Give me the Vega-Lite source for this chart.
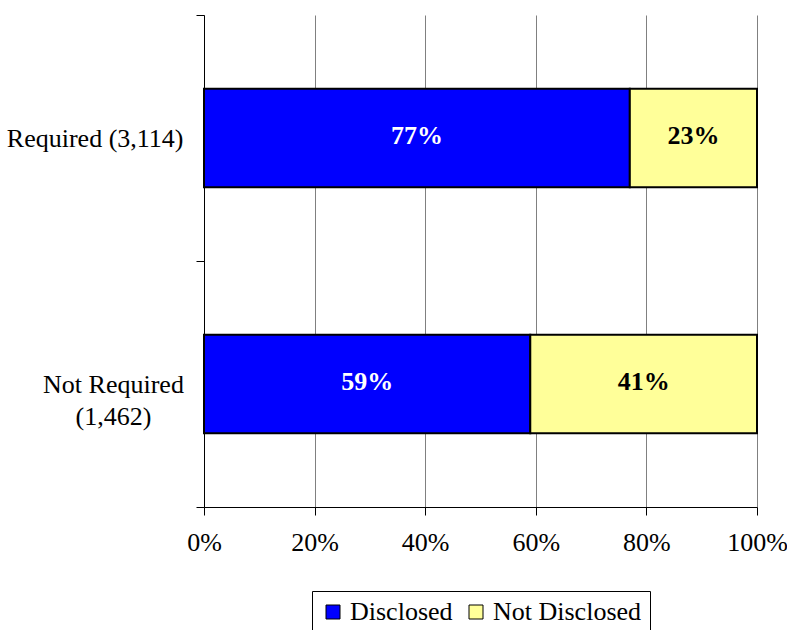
{
  "$schema": "https://vega.github.io/schema/vega-lite/v6.json",
  "autosize": "none",
  "width": 553,
  "height": 492,
  "padding": {"left": 204, "top": 15, "right": 30, "bottom": 123},
  "background": "white",
  "config": {
    "view": {"stroke": null},
    "font": "Liberation Serif",
    "axis": {"labelFont": "Liberation Serif", "labelColor": "black", "domainColor": "black", "tickColor": "black", "domainWidth": 1, "tickWidth": 1},
    "legend": {"labelFont": "Liberation Serif"}
  },
  "data": {
    "values": [
      {"group": "Required (3,114)", "status": "Disclosed", "rank": 1, "pct": 0.77},
      {"group": "Required (3,114)", "status": "Not Disclosed", "rank": 2, "pct": 0.23},
      {"group": "Not Required (1,462)", "status": "Disclosed", "rank": 1, "pct": 0.59},
      {"group": "Not Required (1,462)", "status": "Not Disclosed", "rank": 2, "pct": 0.41}
    ]
  },
  "transform": [
    {"stack": "pct", "groupby": ["group"], "sort": [{"field": "rank"}], "as": ["x0", "x1"]},
    {"calculate": "(datum.x0 + datum.x1) / 2", "as": "mid"}
  ],
  "encoding": {
    "y": {
      "field": "group",
      "type": "nominal",
      "sort": ["Required (3,114)", "Not Required (1,462)"],
      "scale": {"paddingInner": 0, "paddingOuter": 0},
      "title": null,
      "axis": {
        "tickBand": "extent",
        "tickSize": 8,
        "labelFontSize": 26,
        "labelLineHeight": 32,
        "labelLimit": 300,
        "labelAlign": {"condition": {"test": "datum.value == 'Not Required (1,462)'", "value": "center"}, "value": "right"},
        "labelPadding": {"condition": {"test": "datum.value == 'Not Required (1,462)'", "value": 83}, "value": 13},
        "labelExpr": "datum.value == 'Not Required (1,462)' ? ['Not Required', '(1,462)'] : datum.label"
      }
    }
  },
  "layer": [
    {
      "mark": {"type": "bar", "height": {"band": 0.4}, "stroke": "black", "strokeWidth": 2},
      "encoding": {
        "x": {
          "field": "x0",
          "type": "quantitative",
          "scale": {"domain": [0, 1], "nice": false},
          "title": null,
          "axis": {
            "values": [0, 0.2, 0.4, 0.6, 0.8, 1],
            "format": ".0%",
            "grid": true,
            "gridColor": "#808080",
            "gridWidth": 1,
            "tickSize": 8,
            "labelFontSize": 26,
            "labelPadding": 14,
            "labelFlush": false
          }
        },
        "x2": {"field": "x1"},
        "color": {
          "field": "status",
          "type": "nominal",
          "scale": {"domain": ["Disclosed", "Not Disclosed"], "range": ["#0000FF", "#FFFF99"]},
          "legend": {
            "title": null,
            "orient": "none",
            "direction": "horizontal",
            "legendX": 108,
            "legendY": 576,
            "strokeColor": "black",
            "fillColor": "white",
            "padding": 8,
            "symbolType": "square",
            "symbolSize": 196,
            "symbolStrokeColor": "black",
            "symbolStrokeWidth": 1,
            "symbolOpacity": 1,
            "labelFontSize": 26,
            "labelOffset": 4,
            "columnPadding": 10
          }
        }
      }
    },
    {
      "mark": {"type": "text", "fontWeight": "bold", "fontSize": 26, "dy": -2},
      "encoding": {
        "x": {"field": "mid", "type": "quantitative"},
        "text": {"field": "pct", "type": "quantitative", "format": ".0%"},
        "color": {
          "field": "status",
          "type": "nominal",
          "scale": {"domain": ["Disclosed", "Not Disclosed"], "range": ["white", "black"]},
          "legend": null
        }
      }
    }
  ],
  "resolve": {"scale": {"color": "independent"}}
}
